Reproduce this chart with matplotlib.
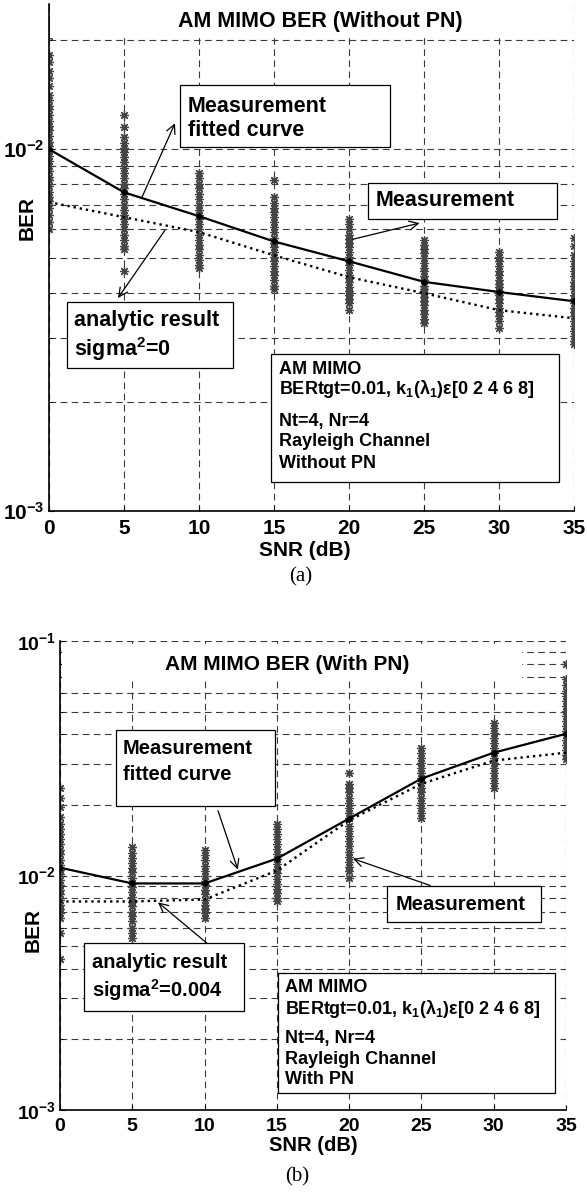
import numpy as np
import matplotlib
matplotlib.use("Agg")
import matplotlib.pyplot as plt
from matplotlib.patches import Rectangle
from matplotlib.ticker import LogLocator, NullFormatter

W, H = 587, 1193

# SNR points (dB)
snr = [0, 5, 10, 15, 20, 25, 30, 35]
xtick_labels = ["0", "5", "10", "15", "20", "25", "30", "35"]

# (a) without PN
fit_a = [0.0100, 0.0076, 0.00653, 0.00556, 0.0049, 0.0043, 0.00403, 0.0038]
ana_a = [0.00714, 0.00649, 0.0059, 0.00509, 0.00443, 0.0040, 0.00359, 0.00341]
# measured BER clouds, in units of 1e-3, one list per SNR
meas_a = [
    [22.0, 20.6, 18.2, 17.4, 16.5, 15.7, 15.0, 14.1, 13.7, 13.2, 12.9, 12.4, 12.0, 11.6,
     11.3, 10.9, 10.5, 10.2, 9.9, 9.6, 9.3, 9.0, 8.7, 8.4, 8.2, 7.9, 7.6, 7.4, 7.2, 6.9,
     6.6, 6.3, 6.0],
    [12.4, 11.5, 10.8, 10.4, 10.1, 9.8, 9.5, 9.2, 8.9, 8.6, 8.3, 8.0, 7.8, 7.5, 7.3, 7.0,
     6.8, 6.6, 6.4, 6.2, 6.0, 5.8, 5.6, 5.4, 5.3, 4.6],
    [8.6, 8.3, 8.0, 7.8, 7.5, 7.3, 7.0, 6.8, 6.6, 6.4, 6.2, 6.0, 5.8, 5.6, 5.45, 5.3, 5.1,
     4.95, 4.8, 4.7],
    [8.2, 7.4, 7.1, 6.9, 6.7, 6.5, 6.3, 6.1, 5.9, 5.7, 5.5, 5.35, 5.2, 5.05, 4.9, 4.75,
     4.6, 4.5, 4.35, 4.2, 4.1],
    [6.4, 6.2, 6.0, 5.8, 5.65, 5.5, 5.35, 5.2, 5.05, 4.9, 4.8, 4.65, 4.5, 4.4, 4.3, 4.15,
     4.05, 3.95, 3.85, 3.75, 3.6],
    [5.6, 5.45, 5.3, 5.15, 5.0, 4.85, 4.7, 4.6, 4.45, 4.35, 4.2, 4.1, 4.0, 3.9, 3.8, 3.7,
     3.6, 3.5, 3.4, 3.3],
    [5.2, 5.05, 4.9, 4.75, 4.6, 4.5, 4.35, 4.25, 4.15, 4.05, 3.95, 3.85, 3.75, 3.65, 3.55,
     3.45, 3.35, 3.2],
    [5.7, 5.4, 5.1, 4.9, 4.75, 4.6, 4.45, 4.3, 4.2, 4.1, 3.95, 3.85, 3.75, 3.65, 3.55, 3.45,
     3.35, 3.25, 3.15, 3.05, 2.95, 2.9],
]
yticks_a = [1e-3, 1e-2]
ytick_labels_a = [r"$10^{-3}$", r"$10^{-2}$"]

# (b) with PN
fit_b = [0.0108, 0.00925, 0.00925, 0.0118, 0.0175, 0.0259, 0.0334, 0.0402]
ana_b = [0.00775, 0.00775, 0.0079, 0.0105, 0.0172, 0.0246, 0.0309, 0.0334]
meas_b = [
    [23.7, 21.5, 19.5, 17.7, 16.6, 15.8, 15.0, 14.3, 13.6, 12.9, 12.3, 11.7, 11.1, 10.6,
     10.1, 9.6, 9.1, 8.7, 8.3, 7.9, 7.5, 7.2, 6.9, 6.6, 5.7, 4.4],
    [13.2, 12.5, 11.9, 11.3, 10.8, 10.3, 9.8, 9.3, 8.9, 8.5, 8.1, 7.7, 7.4, 7.0, 6.7, 6.4,
     6.0, 5.7, 5.4],
    [12.8, 12.2, 11.6, 11.0, 10.5, 10.0, 9.5, 9.1, 8.7, 8.3, 7.9, 7.5, 7.2, 6.9, 6.6],
    [16.6, 15.8, 15.0, 14.3, 13.6, 13.0, 12.4, 11.8, 11.2, 10.7, 10.2, 9.7, 9.2, 8.8, 8.4,
     8.0, 7.8],
    [27.4, 24.6, 23.7, 22.6, 21.5, 20.4, 19.4, 18.4, 17.6, 16.3, 15.5, 14.7, 14.0, 13.3,
     12.6, 12.0, 11.4, 10.9, 10.5, 9.8],
    [35.0, 33.3, 31.7, 30.2, 28.8, 27.4, 26.1, 24.9, 23.7, 22.6, 21.5, 20.4, 19.4, 18.5,
     17.6],
    [44.8, 42.5, 40.5, 38.6, 36.8, 35.0, 33.4, 31.8, 30.3, 28.8, 27.4, 26.1, 24.9, 23.7],
    [79.7, 68.8, 65.0, 61.3, 58.4, 55.6, 53.0, 50.5, 48.1, 45.8, 43.6, 41.5, 39.6, 37.7,
     35.9, 34.2, 32.6, 31.5],
]
yticks_b = [1e-3, 1e-2, 1e-1]
ytick_labels_b = [r"$10^{-3}$", r"$10^{-2}$", r"$10^{-1}$"]

plt.rcParams["font.family"] = ["Liberation Sans", "DejaVu Sans"]
plt.rcParams["font.weight"] = "bold"
plt.rcParams["mathtext.fontset"] = "custom"
plt.rcParams["mathtext.rm"] = "Liberation Sans:bold"
plt.rcParams["mathtext.it"] = "Liberation Sans:bold"
plt.rcParams["mathtext.bf"] = "Liberation Sans:bold"

fig = plt.figure(figsize=(W / 100, H / 100), dpi=100)


def fx(x):
    return x / W


def fy(y):
    return 1 - y / H


def box(x0, y0, x1, y1, edge="black", z=5):
    r = Rectangle((fx(x0), fy(y1)), (x1 - x0) / W, (y1 - y0) / H,
                  transform=fig.transFigure, facecolor="white",
                  edgecolor=edge, lw=0.9, zorder=z)
    fig.add_artist(r)


def ftext(x, y, s, size, **kw):
    fig.text(fx(x), fy(y), s, fontsize=size, fontweight="bold",
             va="center", zorder=6, **kw)


def arrow(ax, head, tail):
    ax.annotate("", xy=head, xytext=tail,
                arrowprops=dict(arrowstyle="->", lw=0.9, color="black",
                                mutation_scale=16, shrinkA=0, shrinkB=0),
                zorder=6)


def draw_panel(ax, meas, fit, ana, ylim, yticks, ytick_labels, tsize):
    for x, col in zip(snr, meas):
        vals = np.array(col) * 1e-3
        ax.plot(np.full(len(vals), x), vals, ls="none", marker=(8, 2, 0),
                ms=6.5, mew=0.9, color="#454545", zorder=2)
    ax.plot(snr, ana, color="black", ls=":", lw=1.7, zorder=3)
    ax.plot(snr, fit, color="black", ls="-", lw=1.6, marker="D", ms=3, zorder=4)
    ax.set_yscale("log")
    ax.set_xlim(0, 35)
    ax.set_ylim(*ylim)
    ax.set_xticks(snr)
    ax.set_xticklabels(xtick_labels)
    ax.set_yticks(yticks)
    ax.set_yticklabels(ytick_labels)
    ax.yaxis.set_minor_locator(LogLocator(base=10, subs=range(2, 10)))
    ax.yaxis.set_minor_formatter(NullFormatter())
    ax.tick_params(which="both", direction="in", labelsize=tsize)
    ax.tick_params(axis="x", pad=6)
    ax.tick_params(axis="y", pad=3)
    ax.grid(True, which="both", ls=(0, (6, 4)), color="#3a3a3a", lw=0.8)
    for s in ["top", "right"]:
        ax.spines[s].set_visible(False)
    for s in ["left", "bottom"]:
        ax.spines[s].set_linewidth(1.2)


# ---- panel (a)
ax1 = fig.add_axes([fx(49), fy(511), 525 / W, 507 / H])
draw_panel(ax1, meas_a, fit_a, ana_a, (1e-3, 0.0252), yticks_a, ytick_labels_a, 15)
ax1.set_xlabel("SNR (dB)", fontsize=15, fontweight="bold")
ax1.xaxis.set_label_coords(0.488, -0.077)
ax1.xaxis.label.set_va("center")
ax1.set_ylabel("BER", fontsize=15, fontweight="bold")
ax1.yaxis.set_label_coords(-0.042, 0.578)
ax1.yaxis.label.set_va("center")

box(50, 4, 560, 38, edge="none", z=1)
ftext(320, 22, "AM MIMO BER (Without PN)", 15.5, ha="center")

box(180, 85, 390, 147)
ftext(188, 107, "Measurement", 15.5)
ftext(188, 131, "fitted curve", 15.5)
arrow(ax1, (8.4, 0.0118), (6.2, 0.00737))

box(67, 302, 233, 368)
ftext(74, 320, "analytic result", 15.5)
ftext(74, 349, r"sigma$^2$=0", 15.5)
arrow(ax1, (4.6, 0.00388), (7.73, 0.00597))

box(368, 183, 557, 219)
ftext(376, 201, "Measurement", 15.5)
arrow(ax1, (24.7, 0.00625), (20.27, 0.00564))

box(271, 354, 559, 482)
info_a = ["AM MIMO", r"BERtgt=0.01, k$_1$($\lambda_1$)ε[0 2 4 6 8]",
          "Nt=4, Nr=4", "Rayleigh Channel", "Without PN"]
for line, y in zip(info_a, [370, 389, 422, 442, 463]):
    ftext(279, y, line, 13)

fig.text(fx(301), fy(577), "(a)", fontsize=15, family="Liberation Serif",
         fontweight="normal", ha="center", va="center")

# ---- panel (b)
ax2 = fig.add_axes([fx(60), fy(1110), 506 / W, 469 / H])
draw_panel(ax2, meas_b, fit_b, ana_b, (1e-3, 1e-1), yticks_b, ytick_labels_b, 14)
ax2.set_xlabel("SNR (dB)", fontsize=14.5, fontweight="bold")
ax2.xaxis.set_label_coords(0.5, -0.075)
ax2.xaxis.label.set_va("center")
ax2.set_ylabel("BER", fontsize=15, fontweight="bold")
ax2.yaxis.set_label_coords(-0.053, 0.384)
ax2.yaxis.label.set_va("center")

box(62, 645, 522, 679, edge="none", z=1)
ftext(287, 664, "AM MIMO BER (With PN)", 15, ha="center")

box(116, 730, 275, 806)
ftext(123, 748, "Measurement", 14.5)
ftext(123, 775, "fitted curve", 14.5)
arrow(ax2, (12.3, 0.0106), (10.93, 0.0189))

box(387, 886, 541, 922)
ftext(396, 904, "Measurement", 14.5)
arrow(ax2, (20.26, 0.0118), (25.6, 0.00907))

box(84, 943, 244, 1011)
ftext(92, 962, "analytic result", 14.5)
ftext(92, 990, r"sigma$^2$=0.004", 14.5)
arrow(ax2, (6.78, 0.00768), (10.17, 0.00514))

box(278, 973, 555, 1093)
info_b = ["AM MIMO", r"BERtgt=0.01, k$_1$($\lambda_1$)ε[0 2 4 6 8]",
          "Nt=4, Nr=4", "Rayleigh Channel", "With PN"]
for line, y in zip(info_b, [988, 1009, 1038, 1060, 1080]):
    ftext(285, y, line, 13)

fig.text(fx(297), fy(1177), "(b)", fontsize=15, family="Liberation Serif",
         fontweight="normal", ha="center", va="center")

fig.savefig("out.png", dpi=100)
